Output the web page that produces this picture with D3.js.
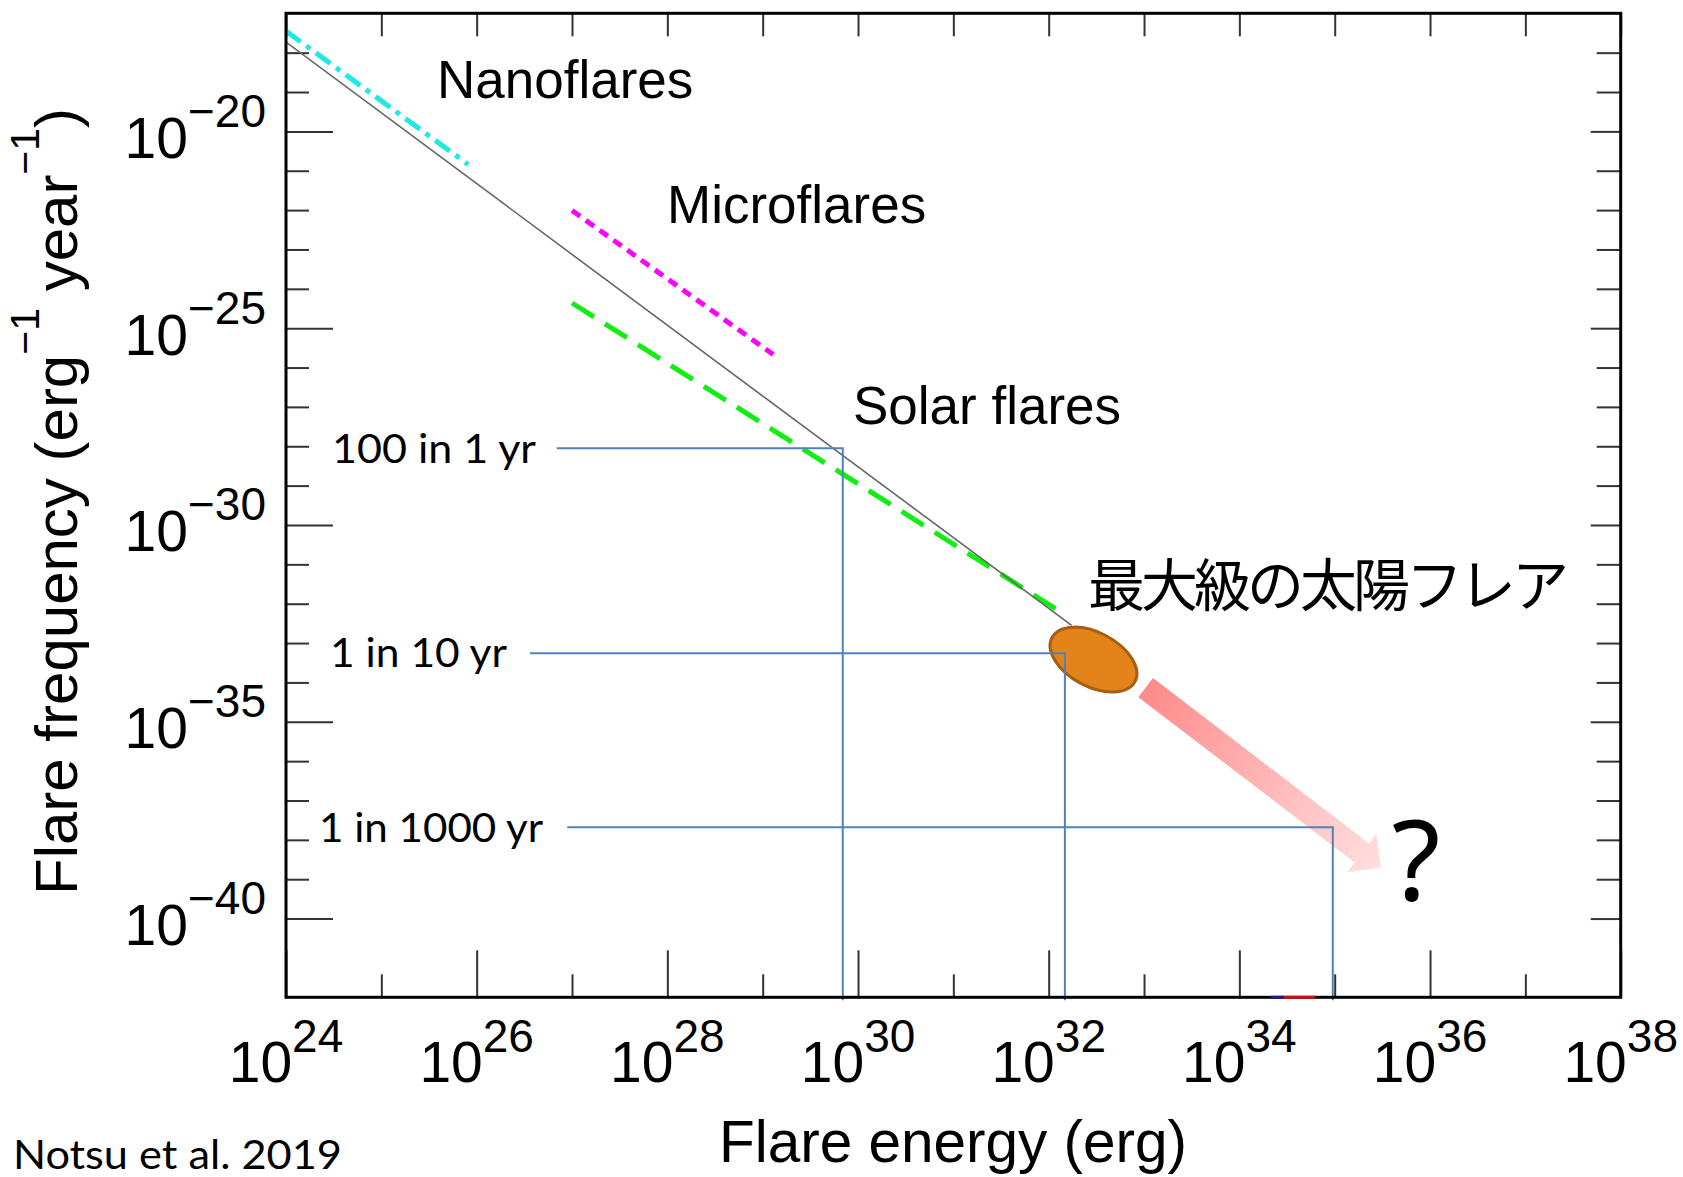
<!DOCTYPE html>
<html>
<head>
<meta charset="utf-8">
<script src="https://cdn.jsdelivr.net/npm/d3@7"></script>
<style>
  body { margin: 0; background: #fff; }
  svg { display: block; }
</style>
</head>
<body>
<svg id="chart" width="1683" height="1177"></svg>
<script>
// tick exponents (powers of ten)
const xMajorExp = [24, 26, 28, 30, 32, 34, 36, 38];
const xMinorExp = [25, 27, 29, 31, 33, 35, 37];
const yMajorExp = [-20, -25, -30, -35, -40];
const yMinorExp = [-18, -19, -21, -22, -23, -24, -26, -27, -28, -29, -31, -32, -33, -34, -36, -37, -38, -39];

// lines, [log10 energy, log10 frequency]
const powerLaw = [[24, -17.73], [32.24, -32.55]];
const nanoflares = [[24, -17.45], [25.91, -20.84]];
const microflares = [[27.0, -22.01], [29.11, -25.67]];
const solarFlares = [[27.0, -24.36], [32.10, -32.17]];

// reading guides: label, log10 frequency, log10 energy where the line turns down, log10 energy of line start
const guideLabels = ["100 in 1 yr", "1 in 10 yr", "1 in 1000 yr"];
const guideFreq = [-28.05, -33.26, -37.68];
const guideEnergy = [29.84, 32.17, 34.98];
const guideStart = [26.84, 26.56, 26.95];

// largest solar flares blob and arrow
const bigFlare = [32.47, -33.42];
const arrowFrom = [33.0, -34.1];
const arrowTo = [35.51, -38.75];

const svg = d3.select("#chart");
const mLeft = 286, mRight = 1620.7, mTop = 13.3, mBottom = 997.3;

const x = d3.scaleLog().domain([1e24, 1e38]).range([mLeft, mRight]);
const y = d3.scaleLog().domain([1e-42, 1e-17]).range([mBottom, mTop]);
const px = d => x(Math.pow(10, d[0]));
const py = d => y(Math.pow(10, d[1]));
const pw = e => Math.pow(10, e);

const defs = svg.append("defs");
defs.append("clipPath").attr("id", "plot")
  .append("rect").attr("x", mLeft).attr("y", mTop)
  .attr("width", mRight - mLeft).attr("height", mBottom - mTop);

function clean(g) {
  g.select(".domain").remove();
  g.selectAll("text").remove();
  g.selectAll("line").attr("stroke", "#333").attr("stroke-width", 2);
}

// ticks
svg.append("g").attr("transform", `translate(0,${mBottom})`)
  .call(d3.axisBottom(x).tickValues(xMajorExp.map(pw)).tickSize(-47).tickFormat("")).call(clean);
svg.append("g").attr("transform", `translate(0,${mBottom})`)
  .call(d3.axisBottom(x).tickValues(xMinorExp.map(pw)).tickSize(-23).tickFormat("")).call(clean);
svg.append("g").attr("transform", `translate(0,${mTop})`)
  .call(d3.axisTop(x).tickValues(xMajorExp.concat(xMinorExp).map(pw)).tickSize(-23).tickFormat("")).call(clean);
svg.append("g").attr("transform", `translate(${mLeft},0)`)
  .call(d3.axisLeft(y).tickValues(yMajorExp.map(pw)).tickSize(-47).tickFormat("")).call(clean);
svg.append("g").attr("transform", `translate(${mLeft},0)`)
  .call(d3.axisLeft(y).tickValues(yMinorExp.map(pw)).tickSize(-23).tickFormat("")).call(clean);
svg.append("g").attr("transform", `translate(${mRight},0)`)
  .call(d3.axisRight(y).tickValues(yMajorExp.map(pw)).tickSize(-30).tickFormat("")).call(clean);
svg.append("g").attr("transform", `translate(${mRight},0)`)
  .call(d3.axisRight(y).tickValues(yMinorExp.map(pw)).tickSize(-24).tickFormat("")).call(clean);

// tick labels
const labelFont = "'Liberation Sans', Arial, sans-serif";
xMajorExp.forEach(e => {
  const t = svg.append("text").attr("x", x(pw(e))).attr("y", 1082)
    .attr("text-anchor", "middle").attr("font-family", labelFont).attr("fill", "#000");
  t.append("tspan").attr("font-size", 57).text("10");
  t.append("tspan").attr("font-size", 46).attr("dy", -30).text(e);
});
yMajorExp.forEach(e => {
  const t = svg.append("text").attr("x", 266).attr("y", y(pw(e)) + 26.5)
    .attr("text-anchor", "end").attr("font-family", labelFont).attr("fill", "#000");
  t.append("tspan").attr("font-size", 57).text("10");
  t.append("tspan").attr("font-size", 46).attr("dy", -31).text("\u2212" + Math.abs(e));
});

// axis titles
svg.append("text").attr("x", 953).attr("y", 1162).attr("text-anchor", "middle")
  .attr("font-family", labelFont).attr("font-size", 58.5).text("Flare energy (erg)");
const yt = svg.append("text").attr("transform", "translate(77,895) rotate(-90)")
  .attr("font-family", labelFont).attr("font-size", 60);
yt.append("tspan").text("Flare frequency (erg");
yt.append("tspan").attr("font-size", 41).attr("dy", -38).text("\u22121");
yt.append("tspan").attr("dy", 38).text(" year");
yt.append("tspan").attr("font-size", 41).attr("dy", -38).text("\u22121");
yt.append("tspan").attr("dy", 38).text(")");

// data lines
const line = d3.line().x(px).y(py);
const plot = svg.append("g").attr("clip-path", "url(#plot)");
plot.append("path").datum(nanoflares).attr("d", line).attr("fill", "none")
  .attr("stroke", "#1ee8e8").attr("stroke-width", 5).attr("stroke-dasharray", "18,7,5,7");
plot.append("path").datum(microflares).attr("d", line).attr("fill", "none")
  .attr("stroke", "#ff00ff").attr("stroke-width", 5).attr("stroke-dasharray", "10,7");
plot.append("path").datum(solarFlares).attr("d", line).attr("fill", "none")
  .attr("stroke", "#11ee11").attr("stroke-width", 5).attr("stroke-dasharray", "26,13");
plot.append("path").datum(powerLaw).attr("d", line).attr("fill", "none")
  .attr("stroke", "#666").attr("stroke-width", 1.6);

// biggest flares blob
svg.append("ellipse")
  .attr("transform", `translate(${px(bigFlare)},${py(bigFlare)}) rotate(28)`)
  .attr("rx", 47).attr("ry", 27)
  .attr("fill", "#e4831a").attr("stroke", "#a55f12").attr("stroke-width", 3);

// arrow with gradient
const ax0 = px(arrowFrom), ay0 = py(arrowFrom), ax1 = px(arrowTo), ay1 = py(arrowTo);
const grad = defs.append("linearGradient").attr("id", "arrowGrad")
  .attr("gradientUnits", "userSpaceOnUse")
  .attr("x1", ax0).attr("y1", ay0).attr("x2", ax1).attr("y2", ay1);
grad.append("stop").attr("offset", 0).attr("stop-color", "#ff8a8a");
grad.append("stop").attr("offset", 1).attr("stop-color", "#ffe0e0");
{
  const len = Math.hypot(ax1 - ax0, ay1 - ay0);
  const ux = (ax1 - ax0) / len, uy = (ay1 - ay0) / len;
  const nx = -uy, ny = ux;
  const shaft = 14, head = 28.5, headLen = 29;
  const bx = ax1 - ux * headLen, by = ay1 - uy * headLen;
  const pts = [
    [ax0 + nx * shaft, ay0 + ny * shaft],
    [bx + nx * shaft, by + ny * shaft],
    [bx + nx * head, by + ny * head],
    [ax1, ay1],
    [bx - nx * head, by - ny * head],
    [bx - nx * shaft, by - ny * shaft],
    [ax0 - nx * shaft, ay0 - ny * shaft]
  ];
  svg.append("polygon").attr("points", pts.map(p => p.join(",")).join(" "))
    .attr("fill", "url(#arrowGrad)").attr("stroke", "#fff").attr("stroke-width", 4)
    .attr("stroke-linejoin", "miter");
}

// reading guides
guideLabels.forEach((lab, i) => {
  const gy = y(pw(guideFreq[i])), gx = x(pw(guideEnergy[i])), sx = x(pw(guideStart[i]));
  svg.append("path").attr("d", `M${sx},${gy}H${gx}V${mBottom + 3}`)
    .attr("fill", "none").attr("stroke", "#4f81bd").attr("stroke-width", 2);
});
const guideText = [[332, 463, 204], [330, 667, 177], [319, 842, 224]];
guideLabels.forEach((lab, i) => {
  svg.append("text").attr("x", guideText[i][0]).attr("y", guideText[i][1])
    .attr("font-family", "Lato, sans-serif").attr("font-size", 41)
    .attr("textLength", guideText[i][2]).attr("lengthAdjust", "spacingAndGlyphs").text(lab);
});

// frame
svg.append("rect").attr("x", mLeft).attr("y", mTop).attr("width", mRight - mLeft).attr("height", mBottom - mTop)
  .attr("fill", "none").attr("stroke", "#000").attr("stroke-width", 3);

// small marks on the energy axis
svg.append("line").attr("x1", 1271).attr("x2", 1284).attr("y1", mBottom).attr("y2", mBottom)
  .attr("stroke", "#1a1aa0").attr("stroke-width", 3);
svg.append("line").attr("x1", 1284).attr("x2", 1315).attr("y1", mBottom).attr("y2", mBottom)
  .attr("stroke", "#cc1111").attr("stroke-width", 3);

// annotations
const ann = svg.append("g").attr("font-family", labelFont).attr("font-size", 53);
ann.append("text").attr("x", 437).attr("y", 98).text("Nanoflares");
ann.append("text").attr("x", 667).attr("y", 223).text("Microflares");
ann.append("text").attr("x", 853).attr("y", 424).text("Solar flares");

svg.append("text").attr("x", 1088).attr("y", 606)
  .attr("font-family", "'Noto Sans CJK JP', sans-serif").attr("font-size", 57)
  .attr("textLength", 481).attr("lengthAdjust", "spacing").text("最大級の太陽フレア");

svg.append("text").attr("x", 1416).attr("y", 900).attr("text-anchor", "middle")
  .attr("font-family", "'Noto Sans', sans-serif").attr("font-size", 112).text("?");

svg.append("text").attr("x", 13).attr("y", 1169)
  .attr("font-family", "Lato, sans-serif").attr("font-size", 40)
  .attr("textLength", 329).attr("lengthAdjust", "spacingAndGlyphs").text("Notsu et al. 2019");
</script>
</body>
</html>
